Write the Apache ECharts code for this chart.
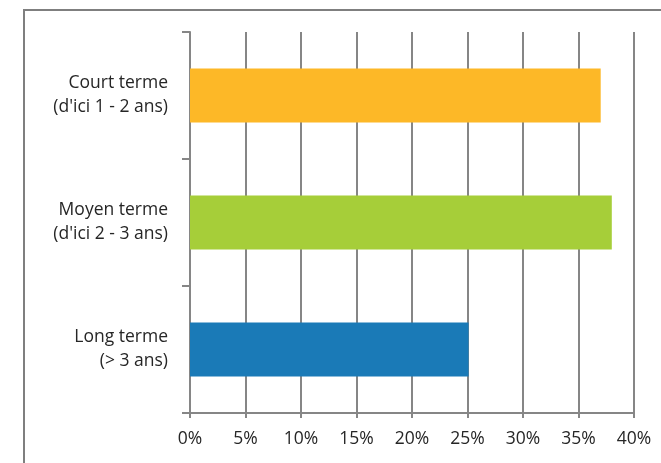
<!DOCTYPE html>
<html>
<head>
<meta charset="utf-8">
<script src="https://cdn.jsdelivr.net/npm/echarts@6/dist/echarts.min.js"></script>
<style>
html,body{margin:0;padding:0;background:#fff;}
#chart{width:661px;height:463px;}
</style>
</head>
<body>
<div id="chart"></div>
<script>
// données
var categories = ["Court terme\n(d'ici 1 - 2 ans)", "Moyen terme\n(d'ici 2 - 3 ans)", "Long terme\n(> 3 ans)"];
var values = [37, 38, 25.1];
var barColors = ['#FDB827', '#A6CE39', '#1A7AB7'];
var xTicks = [0, 5, 10, 15, 20, 25, 30, 35, 40];

var myChart = echarts.init(document.getElementById('chart'));
var option = {
	backgroundColor: '#fff',
	animation: false,
	textStyle: { fontFamily: 'Open Sans' },
	graphic: [{
		type: 'rect',
		shape: { x: 24, y: 10, width: 700, height: 500 },
		style: { fill: 'none', stroke: '#7f7f7f', lineWidth: 2 }
	}],
	grid: { left: 190, right: 27, top: 32, bottom: 50 },
	xAxis: {
		type: 'value',
		min: xTicks[0],
		max: xTicks[xTicks.length - 1],
		interval: 5,
		axisLine: { show: true, lineStyle: { color: '#868686', width: 2 } },
		axisTick: { show: true, length: 5, lineStyle: { color: '#868686', width: 2 } },
		splitLine: { show: true, lineStyle: { color: '#868686', width: 2 } },
		axisLabel: {
			color: '#262626',
			fontSize: 17.5,
			margin: 17,
			formatter: function(v){ return v + '%'; }
		}
	},
	yAxis: {
		type: 'category',
		inverse: true,
		data: categories,
		axisLine: { show: true, lineStyle: { color: '#868686', width: 2 } },
		axisTick: { show: true, length: 8, lineStyle: { color: '#868686', width: 2 } },
		axisLabel: {
			color: '#262626',
			fontSize: 17.5,
			lineHeight: 24,
			margin: 22,
			align: 'right'
		}
	},
	series: [{
		type: 'bar',
		barWidth: 54,
		data: values.map(function(v, i){
			return { value: v, itemStyle: { color: barColors[i] } };
		})
	}]
};
myChart.setOption(option);
</script>
</body>
</html>
